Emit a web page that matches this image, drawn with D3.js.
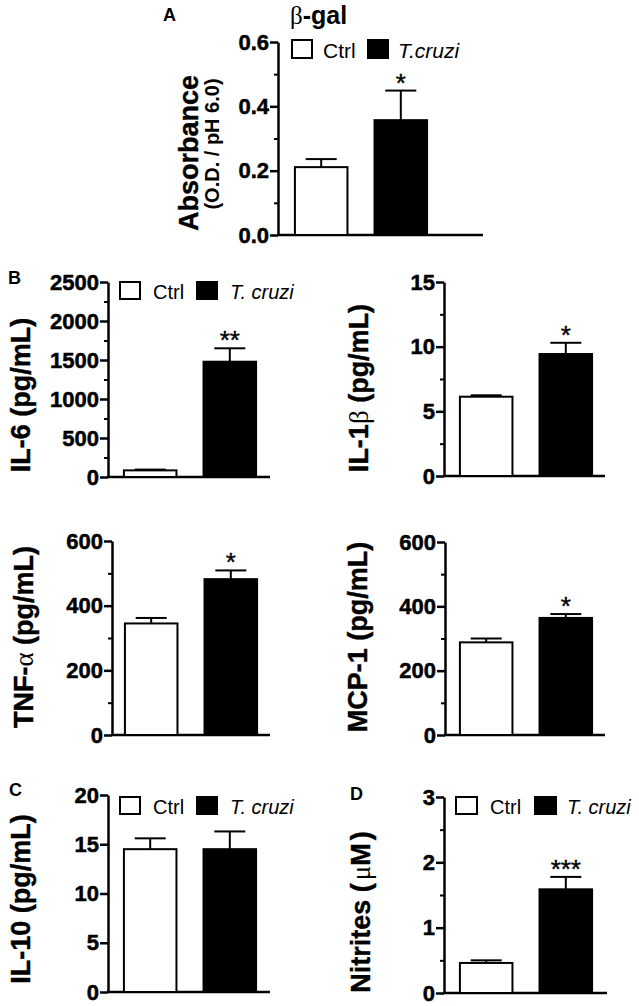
<!DOCTYPE html>
<html>
<head>
<meta charset="utf-8">
<script src="https://cdn.jsdelivr.net/npm/d3@7"></script>
<style>
  html, body { margin: 0; padding: 0; background: #fff; }
  svg { display: block; font-family: "Liberation Sans", Arial, sans-serif; }
</style>
</head>
<body>
<svg id="chart" width="639" height="1006"></svg>
<script>
// ---------- DATA ----------
const groups = ["Ctrl", "T. cruzi"];

const betaGalMean = [0.211, 0.357];
const betaGalSEM  = [0.025, 0.092];
const betaGalTicks = [0, 0.2, 0.4, 0.6];
const betaGalMinor = [0.1, 0.3, 0.5];

const il6Mean = [85, 1478];
const il6SEM  = [10, 172];
const il6Ticks = [0, 500, 1000, 1500, 2000, 2500];
const il6Minor = [250, 750, 1250, 1750, 2250];

const il1bMean = [6.13, 9.43];
const il1bSEM  = [0.11, 0.87];
const il1bTicks = [0, 5, 10, 15];
const il1bMinor = [2.5, 7.5, 12.5];

const tnfMean = [345, 482];
const tnfSEM  = [17, 27];
const tnfTicks = [0, 200, 400, 600];
const tnfMinor = [100, 300, 500];

const mcpMean = [288, 364];
const mcpSEM  = [12, 12];
const mcpTicks = [0, 200, 400, 600];
const mcpMinor = [100, 300, 500];

const il10Mean = [14.5, 14.5];
const il10SEM  = [1.1, 1.8];
const il10Ticks = [0, 5, 10, 15, 20];
const il10Minor = [];

const nitMean = [0.46, 1.587];
const nitSEM  = [0.04, 0.19];
const nitTicks = [0, 1, 2, 3];
const nitMinor = [0.5, 1.5, 2.5];

const significance = ["*", "**", "*", "*", "*", "", "***"];

// ---------- LAYOUT ----------
const panels = [
  { mean: betaGalMean, sem: betaGalSEM, ticks: betaGalTicks, minor: betaGalMinor, fmt: ".1f",
    axisX: 278, barX: 279, yTop: 42, yBot: 235, xEnd: 483,
    label: [{t: "Absorbance"}], labelX: 188, labelY: 153,
    sub: "(O.D. / pH 6.0)", subX: 212, subY: 144,
    letter: "A", letterX: 163, letterY: 21,
    legend: {x: 292, y: 40, w: 20, h: 18, tx: 323, bx2: 368, tx2: 398, name2: "T.cruzi", fs: 21} },
  { mean: il6Mean, sem: il6SEM, ticks: il6Ticks, minor: il6Minor, fmt: "d",
    axisX: 108, barX: 108, yTop: 282, yBot: 477, xEnd: 270,
    label: [{t: "IL-6 (pg/mL)"}], labelX: 20, labelY: 395,
    letter: "B", letterX: 8, letterY: 284,
    legend: {x: 120, y: 282, w: 20, h: 17, tx: 153, bx2: 197, tx2: 230, name2: "T. cruzi", fs: 20} },
  { mean: il1bMean, sem: il1bSEM, ticks: il1bTicks, minor: il1bMinor, fmt: "d",
    axisX: 444, barX: 444, yTop: 282, yBot: 476, xEnd: 605,
    label: [{t: "IL-1"}, {t: "β", g: true}, {t: " (pg/mL)"}], labelX: 358, labelY: 388 },
  { mean: tnfMean, sem: tnfSEM, ticks: tnfTicks, minor: tnfMinor, fmt: "d",
    axisX: 112, barX: 109, yTop: 541, yBot: 735, xEnd: 270,
    label: [{t: "TNF-"}, {t: "α", g: true}, {t: " (pg/mL)"}], labelX: 23, labelY: 637 },
  { mean: mcpMean, sem: mcpSEM, ticks: mcpTicks, minor: mcpMinor, fmt: "d",
    axisX: 445, barX: 444, yTop: 542, yBot: 735, xEnd: 605,
    label: [{t: "MCP-1 (pg/mL)"}], labelX: 357, labelY: 637 },
  { mean: il10Mean, sem: il10SEM, ticks: il10Ticks, minor: il10Minor, fmt: "d",
    axisX: 108, barX: 108, yTop: 795, yBot: 992, xEnd: 270,
    label: [{t: "IL-10 (pg/mL)"}], labelX: 20, labelY: 899,
    letter: "C", letterX: 9, letterY: 796,
    legend: {x: 120, y: 797, w: 20, h: 17, tx: 153, bx2: 197, tx2: 230, name2: "T. cruzi", fs: 20} },
  { mean: nitMean, sem: nitSEM, ticks: nitTicks, minor: nitMinor, fmt: "d",
    axisX: 444, barX: 444, yTop: 797, yBot: 993, xEnd: 607,
    label: [{t: "Nitrites ("}, {t: "μ", g: true, dx: 3}, {t: "M"}, {t: ")", dx: 3}], labelX: 360, labelY: 912,
    letter: "D", letterX: 350, letterY: 800,
    legend: {x: 456, y: 797, w: 21, h: 17, tx: 490, bx2: 535, tx2: 567, name2: "T. cruzi", fs: 20} }
];

const svg = d3.select("#chart");
const fills = ["#fff", "#000"];
const labelFs = 27;

// Title of panel A
svg.append("text").attr("x", 290).attr("y", 24)
  .attr("font-size", 25).attr("font-weight", "bold")
  .call(t => {
    t.append("tspan").attr("font-family", "'Liberation Serif', serif").attr("font-weight", "normal").text("β");
    t.append("tspan").text("-gal");
  });

panels.forEach((p, i) => {
  const g = svg.append("g");
  const y = d3.scaleLinear().domain([0, d3.max(p.ticks)]).range([p.yBot, p.yTop]);
  const x = d3.scaleBand().domain(groups).range([p.barX, p.barX + 164]).paddingInner(0.34).paddingOuter(0.2);

  // minor ticks
  const minorAxis = d3.axisLeft(y).tickValues(p.minor).tickSize(4).tickFormat("");
  const gm = g.append("g").attr("transform", `translate(${p.axisX},0)`).call(minorAxis);
  gm.select(".domain").remove();
  gm.selectAll("line").attr("stroke", "#000").attr("stroke-width", 2);

  // major axis
  const axis = d3.axisLeft(y).tickValues(p.ticks).tickFormat(d3.format(p.fmt)).tickSize(8).tickSizeOuter(0).tickPadding(1);
  const ga = g.append("g").attr("transform", `translate(${p.axisX},0)`).call(axis);
  ga.select(".domain").attr("stroke", "#000").attr("stroke-width", 2.5);
  ga.selectAll(".tick line").attr("stroke", "#000").attr("stroke-width", 2.5);
  ga.selectAll(".tick text").attr("font-size", 22).attr("font-weight", "bold")
    .attr("font-family", "'Liberation Sans', Arial, sans-serif").attr("fill", "#000")
    .attr("stroke", "#000").attr("stroke-width", 0.5);

  // x axis line
  g.append("line").attr("x1", p.axisX - 1).attr("x2", p.xEnd)
    .attr("y1", y(0)).attr("y2", y(0)).attr("stroke", "#000").attr("stroke-width", 2.5);

  // bars
  const data = groups.map((k, j) => ({k, m: p.mean[j], s: p.sem[j], j}));
  g.selectAll("rect.bar").data(data).enter().append("rect").attr("class", "bar")
    .attr("x", d => x(d.k)).attr("width", x.bandwidth())
    .attr("y", d => y(d.m)).attr("height", d => y(0) - y(d.m))
    .attr("fill", d => fills[d.j]).attr("stroke", "#000").attr("stroke-width", 2);

  // error bars (upper)
  const capW = 31;
  data.forEach(d => {
    const cx = x(d.k) + x.bandwidth() / 2;
    g.append("line").attr("x1", cx).attr("x2", cx).attr("y1", y(d.m)).attr("y2", y(d.m + d.s))
      .attr("stroke", "#000").attr("stroke-width", 2);
    g.append("line").attr("x1", cx - capW / 2).attr("x2", cx + capW / 2).attr("y1", y(d.m + d.s)).attr("y2", y(d.m + d.s))
      .attr("stroke", "#000").attr("stroke-width", 2);
  });

  // significance
  if (significance[i]) {
    const d = data[1];
    g.append("text").attr("x", x(d.k) + x.bandwidth() / 2).attr("y", y(d.m + d.s) + 1)
      .attr("text-anchor", "middle").attr("font-size", 26)
      .attr("stroke", "#000").attr("stroke-width", 0.4).text(significance[i]);
  }

  // y label
  const lab = g.append("text")
    .attr("transform", `translate(${p.labelX + 10},${p.labelY}) rotate(-90)`)
    .attr("text-anchor", "middle").attr("font-size", labelFs).attr("font-weight", "bold")
    .attr("stroke", "#000").attr("stroke-width", 0.4);
  p.label.forEach(s => {
    const ts = lab.append("tspan").text(s.t);
    if (s.g) ts.attr("font-family", "'Liberation Serif', serif").attr("font-weight", "normal").attr("stroke-width", 0);
    if (s.dx) ts.attr("dx", s.dx);
  });
  if (p.sub) {
    g.append("text").attr("transform", `translate(${p.subX + 7},${p.subY}) rotate(-90)`)
      .attr("text-anchor", "middle").attr("font-size", 20).attr("font-weight", "bold").text(p.sub);
  }

  // panel letter
  if (p.letter) {
    g.append("text").attr("x", p.letterX).attr("y", p.letterY)
      .attr("font-size", 18).attr("font-weight", "bold").text(p.letter);
  }

  // legend
  if (p.legend) {
    const L = p.legend;
    g.append("rect").attr("x", L.x).attr("y", L.y).attr("width", L.w).attr("height", L.h)
      .attr("fill", fills[0]).attr("stroke", "#000").attr("stroke-width", 2);
    g.append("text").attr("x", L.tx).attr("y", L.y + L.h).attr("font-size", L.fs).text(groups[0]);
    g.append("rect").attr("x", L.bx2).attr("y", L.y).attr("width", L.w).attr("height", L.h)
      .attr("fill", fills[1]).attr("stroke", "#000").attr("stroke-width", 2);
    g.append("text").attr("x", L.tx2).attr("y", L.y + L.h).attr("font-size", L.fs)
      .attr("font-style", "italic").text(L.name2);
  }
});
</script>
</body>
</html>
